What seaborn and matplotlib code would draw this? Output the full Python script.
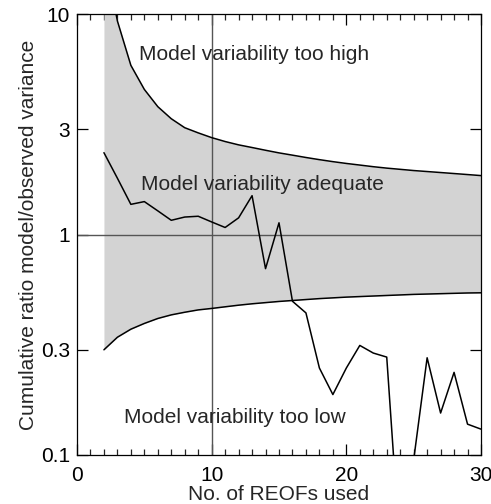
import numpy as np
import pandas as pd
import matplotlib
matplotlib.use("Agg")
import matplotlib.pyplot as plt
import seaborn as sns
from matplotlib.ticker import FixedLocator, FixedFormatter, MultipleLocator

n_reofs = list(range(2, 31))
ratio = [2.35, 1.8, 1.37, 1.41, 1.28, 1.16, 1.20, 1.21, 1.14, 1.076, 1.19, 1.50,
         0.70, 1.13, 0.498, 0.441, 0.248, 0.188, 0.248, 0.314, 0.29, 0.278,
         0.036, 0.095, 0.276, 0.155, 0.237, 0.138, 0.131]
upper = [19.0, 9.3, 5.85, 4.55, 3.8, 3.35, 3.05, 2.89, 2.75, 2.64, 2.55, 2.48,
         2.41, 2.345, 2.29, 2.235, 2.185, 2.14, 2.10, 2.065, 2.03, 2.0, 1.975,
         1.95, 1.93, 1.91, 1.89, 1.87, 1.85]
lower = [0.30, 0.342, 0.372, 0.395, 0.416, 0.432, 0.444, 0.455, 0.462, 0.470,
         0.478, 0.485, 0.491, 0.497, 0.502, 0.507, 0.512, 0.516, 0.520, 0.523,
         0.526, 0.529, 0.532, 0.535, 0.537, 0.539, 0.541, 0.543, 0.544]
y_ticks = [0.1, 0.3, 1, 3, 10]
y_ticklabels = ["0.1", "0.3", "1", "3", "10"]
x_ticks = [0, 10, 20, 30]

df = pd.DataFrame({"n": n_reofs, "ratio": ratio, "upper": upper, "lower": lower})

sns.set_style("ticks")
plt.rcParams['font.family'] = ['Liberation Sans', 'DejaVu Sans']

fig = plt.figure(figsize=(4.91, 5.04), dpi=100)
ax = fig.add_axes([77/491, 1-455/504, (481-77)/491, (455-14)/504])

ax.fill_between(df["n"], df["lower"], df["upper"], color="#d3d3d3", lw=0, zorder=1)
sns.lineplot(data=df, x="n", y="upper", color="black", lw=1.1, ax=ax, zorder=3)
sns.lineplot(data=df, x="n", y="lower", color="black", lw=1.1, ax=ax, zorder=3)
sns.lineplot(data=df, x="n", y="ratio", color="black", lw=1.1, ax=ax, zorder=4)

ax.axvline(10, color="#555555", lw=1.0, zorder=2)
ax.axhline(1, color="#555555", lw=1.0, zorder=2)

ax.set_yscale("log")
ax.set_xlim(0, 30)
ax.set_ylim(0.1, 10)
ax.yaxis.set_major_locator(FixedLocator(y_ticks))
ax.yaxis.set_major_formatter(FixedFormatter(y_ticklabels))
ax.yaxis.set_minor_locator(FixedLocator([]))
ax.xaxis.set_major_locator(FixedLocator(x_ticks))
ax.xaxis.set_minor_locator(MultipleLocator(1))

ax.tick_params(axis="both", which="major", direction="in", length=8, width=0.9,
               top=True, right=True, labelsize=15, colors="black")
ax.tick_params(axis="x", which="major", pad=8)
ax.tick_params(axis="y", which="major", pad=5)
ax.tick_params(axis="x", which="minor", direction="in", length=4, width=0.9,
               top=True, bottom=True)
for s in ax.spines.values():
    s.set_linewidth(0.9)
    s.set_color("black")

ax.set_xlabel("No. of REOFs used", fontsize=15, labelpad=0)
ax.set_ylabel("Cumulative ratio model/observed variance", fontsize=15, labelpad=2)

ax.text(13.13, 6.55, "Model variability too high", fontsize=15, ha="center", va="center", zorder=5)
ax.text(13.75, 1.69, "Model variability adequate", fontsize=15, ha="center", va="center", zorder=5)
ax.text(11.7, 0.148, "Model variability too low", fontsize=15, ha="center", va="center", zorder=5)

fig.savefig("out.png", dpi=100)
